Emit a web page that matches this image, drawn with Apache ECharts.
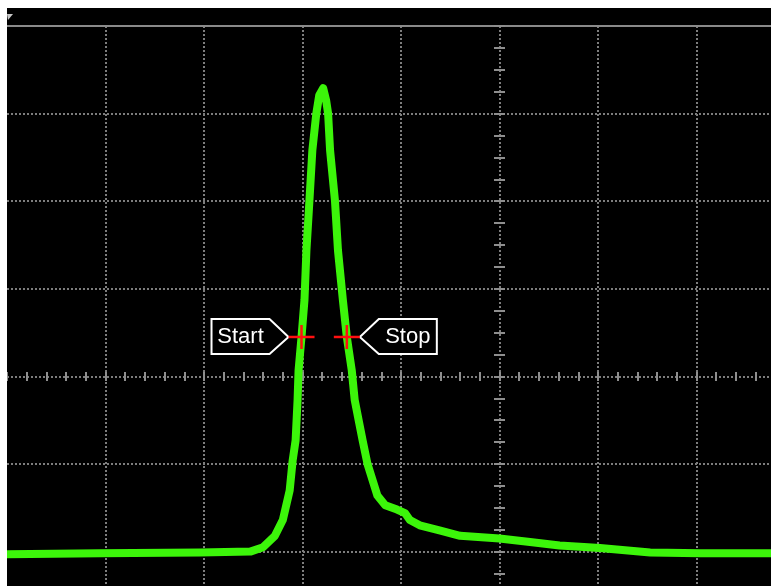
<!DOCTYPE html>
<html>
<head>
<meta charset="utf-8">
<script src="https://cdn.jsdelivr.net/npm/echarts@6/dist/echarts.min.js"></script>
<style>
  html, body { margin: 0; padding: 0; background: #fff; }
  #main { position: absolute; left: 7px; top: 8px; width: 764px; height: 578px; }
</style>
</head>
<body>
<div id="main"></div>
<script>
// trace, in divisions from screen centre (x: 10 div, y: 8 div)
const traceX = [-5.0, -4.06, -3.04, -2.53, -2.40, -2.28, -2.20, -2.13, -2.10, -2.07, -2.05, -2.04, -2.01, -1.98, -1.96, -1.93, -1.90, -1.86, -1.83, -1.79, -1.76, -1.74, -1.72, -1.67, -1.64, -1.59, -1.55, -1.50, -1.47, -1.43, -1.39, -1.34, -1.29, -1.24, -1.16, -1.04, -0.96, -0.91, -0.81, -0.60, -0.40, 0.0, 0.31, 0.61, 1.02, 1.53, 2.04, 2.80]
const traceY = [-2.03, -2.02, -2.01, -2.00, -1.95, -1.82, -1.64, -1.30, -0.96, -0.73, -0.27, 0.07, 0.45, 0.87, 1.44, 2.00, 2.58, 3.00, 3.21, 3.29, 3.15, 3.00, 2.58, 2.00, 1.44, 0.87, 0.45, 0.07, -0.27, -0.50, -0.73, -1.00, -1.18, -1.36, -1.47, -1.52, -1.56, -1.64, -1.70, -1.76, -1.82, -1.85, -1.89, -1.93, -1.96, -2.01, -2.02, -2.02]

// measurement cursors
const cursorNames = ['Start', 'Stop']
const cursorX = [-2.01, -1.55]
const cursorY = [0.45, 0.45]

const gridColor = '#7d7d7d'
const tickColor = '#8e8e8e'

// screen: 10 x 8 divisions, bigger than the visible crop
const divW = 98.5
const divH = 87.6
const gTop = 18
const centreTop = gTop + 4 * divH
const centreLeft = 5 * divW

const chart = echarts.init(document.getElementById('main'), null, { renderer: 'canvas' })

const hidden = { show: false }

const option = {
  backgroundColor: '#000',
  animation: false,
  grid: [
    // main graticule
    { left: 0, top: gTop, width: 10 * divW, height: 8 * divH, outerBoundsMode: 'none' },
    // small ticks across the horizontal centre line
    { left: 0, top: gTop, width: 10 * divW, height: 4 * divH + 4.5, outerBoundsMode: 'none' },
    // small ticks across the vertical centre line
    { left: 0, top: gTop, width: centreLeft + 5.5, height: 8 * divH, outerBoundsMode: 'none' }
  ],
  xAxis: [
    {
      gridIndex: 0,
      type: 'value',
      min: -5,
      max: 5,
      interval: 1,
      position: 'top',
      axisLine: { show: true, onZero: false, lineStyle: { color: '#8a8a8a', width: 2 } },
      axisTick: hidden,
      axisLabel: hidden,
      splitLine: {
        show: true,
        showMinLine: false,
        showMaxLine: false,
        lineStyle: { color: gridColor, width: 2, type: [2, 2] }
      }
    },
    {
      gridIndex: 1,
      type: 'value',
      min: -5,
      max: 5,
      interval: 1,
      position: 'bottom',
      axisLine: { show: false, onZero: false },
      axisTick: { show: true, inside: true, length: 9, lineStyle: { color: tickColor, width: 2 } },
      minorTick: { show: true, splitNumber: 5, length: 9, lineStyle: { color: tickColor, width: 2 } },
      axisLabel: hidden,
      splitLine: hidden
    },
    {
      gridIndex: 2,
      type: 'value',
      min: -5,
      max: 0,
      show: false
    }
  ],
  yAxis: [
    {
      gridIndex: 0,
      type: 'value',
      min: -4,
      max: 4,
      interval: 1,
      axisLine: hidden,
      axisTick: hidden,
      axisLabel: hidden,
      splitLine: {
        show: true,
        showMaxLine: false,
        lineStyle: { color: gridColor, width: 2, type: [2, 2] }
      }
    },
    {
      gridIndex: 1,
      type: 'value',
      min: 0,
      max: 4,
      show: false
    },
    {
      gridIndex: 2,
      type: 'value',
      min: -4,
      max: 4,
      interval: 1,
      position: 'right',
      axisLine: { show: false, onZero: false },
      axisTick: { show: true, inside: true, length: 11, lineStyle: { color: tickColor, width: 2 } },
      minorTick: { show: true, splitNumber: 4, length: 11, lineStyle: { color: tickColor, width: 2 } },
      axisLabel: hidden,
      splitLine: hidden
    }
  ],
  graphic: [
    {
      type: 'polygon',
      shape: { points: [[0, 6], [6, 6], [1, 12]] },
      style: { fill: '#c8c8c8' }
    }
  ],
  series: [
    {
      type: 'line',
      xAxisIndex: 0,
      yAxisIndex: 0,
      data: traceX.map((x, i) => [x, traceY[i]]),
      symbol: 'none',
      lineStyle: { color: '#3cf50a', width: 8, cap: 'round', join: 'round' },
      z: 3
    },
    {
      type: 'custom',
      xAxisIndex: 0,
      yAxisIndex: 0,
      data: cursorX.map((x, i) => [x, cursorY[i]]),
      z: 5,
      renderItem: (params, api) => {
        const p = api.coord([api.value(0), api.value(1)])
        const d = params.dataIndex === 0 ? -1 : 1
        const tip = 13, shoulder = 32, far = 90
        return {
          type: 'group',
          children: [
            {
              type: 'polygon',
              shape: {
                points: [
                  [p[0] + d * tip, p[1]],
                  [p[0] + d * shoulder, p[1] - 18],
                  [p[0] + d * far, p[1] - 18],
                  [p[0] + d * far, p[1] + 17],
                  [p[0] + d * shoulder, p[1] + 17]
                ]
              },
              style: { fill: '#000', stroke: '#fff', lineWidth: 2 }
            },
            {
              type: 'text',
              x: p[0] + d * 61,
              y: p[1],
              style: {
                text: cursorNames[params.dataIndex],
                fill: '#fff',
                font: '22px "Liberation Sans", Arial, sans-serif',
                align: 'center',
                verticalAlign: 'middle'
              }
            },
            {
              type: 'line',
              shape: { x1: p[0] - 13, y1: p[1], x2: p[0] + 13, y2: p[1] },
              style: { stroke: '#ff1010', lineWidth: 2.5 }
            },
            {
              type: 'line',
              shape: { x1: p[0], y1: p[1] - 12, x2: p[0], y2: p[1] + 12 },
              style: { stroke: '#ff1010', lineWidth: 2.5 }
            }
          ]
        }
      }
    }
  ]
}

chart.setOption(option)
</script>
</body>
</html>
